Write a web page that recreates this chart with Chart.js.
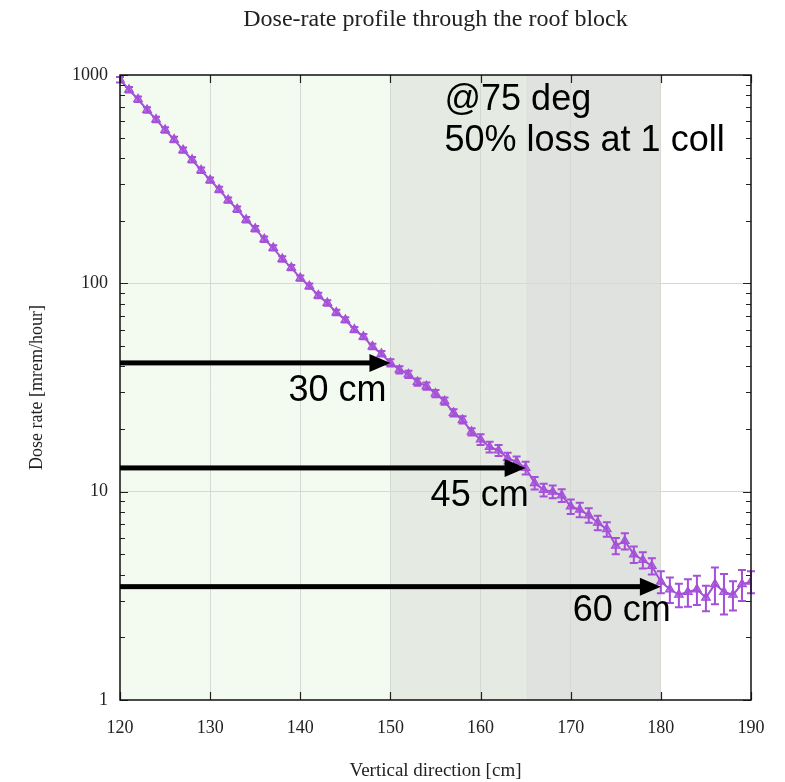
<!DOCTYPE html>
<html>
<head>
<meta charset="utf-8">
<script src="https://cdn.jsdelivr.net/npm/chart.js@4/dist/chart.umd.min.js"></script>
<style>
  html, body { margin: 0; padding: 0; background: #fff; }
</style>
</head>
<body>
<canvas id="grafico_dose" width="785" height="782"></canvas>
<script>
// dati: posizione verticale [cm] e dose [mrem/hour]
const POSIZIONI = [
  120, 121, 122, 123, 124, 125, 126, 127, 128, 129,
  130, 131, 132, 133, 134, 135, 136, 137, 138, 139,
  140, 141, 142, 143, 144, 145, 146, 147, 148, 149,
  150, 151, 152, 153, 154, 155, 156, 157, 158, 159,
  160, 161, 162, 163, 164, 165, 166, 167, 168, 169,
  170, 171, 172, 173, 174, 175, 176, 177, 178, 179,
  180, 181, 182, 183, 184, 185, 186, 187, 188, 189, 190
];
const DOSE = [
  950, 850, 765, 680, 612, 545, 490, 436, 392, 349,
  313, 282, 251, 227, 202, 183, 163, 148, 131, 119,
  106, 97, 87.5, 80.5, 72.5, 66.8, 60, 55.5, 49.8, 45.9,
  41.5, 38.5, 36.6, 33.6, 32.1, 29.6, 27.2, 23.9, 22.1, 19.4,
  17.8, 16.4, 15.8, 14.5, 13.9, 13.0, 11.0, 10.2, 10.0, 9.6,
  8.5, 8.2, 7.7, 7.1, 6.6, 5.5, 5.8, 5.0, 4.7, 4.4,
  3.7, 3.4, 3.2, 3.3, 3.4, 3.1, 3.6, 3.3, 3.2, 3.6, 3.7
];
// errore relativo di ogni punto
const ERRORE = [
  0.03, 0.03, 0.03, 0.03, 0.03, 0.03, 0.03, 0.03, 0.03, 0.03,
  0.03, 0.03, 0.03, 0.03, 0.03, 0.03, 0.03, 0.03, 0.03, 0.03,
  0.03, 0.03, 0.03, 0.03, 0.03, 0.03, 0.03, 0.03, 0.03, 0.03,
  0.04, 0.04, 0.04, 0.04, 0.04, 0.04, 0.04, 0.04, 0.04, 0.04,
  0.06, 0.06, 0.06, 0.06, 0.06, 0.07, 0.07, 0.07, 0.07, 0.07,
  0.08, 0.08, 0.08, 0.08, 0.08, 0.09, 0.09, 0.09, 0.09, 0.09,
  0.12, 0.14, 0.13, 0.15, 0.16, 0.14, 0.2, 0.22, 0.16, 0.17, 0.12
];

const TICK_X = [120, 130, 140, 150, 160, 170, 180, 190];
const TICK_Y_MAGGIORI = [1, 10, 100, 1000];
const TICK_Y_MINORI = [2, 3, 4, 5, 6, 7, 8, 9, 20, 30, 40, 50, 60, 70, 80, 90, 200, 300, 400, 500, 600, 700, 800, 900];

// zone dello schermo (bordi in cm)
const ZONE_BORDI = [120, 150, 165, 180];
const ZONE_COLORI = ["#f3fbf0", "#e5ebe2", "#e0e2df"];

// frecce: fino a dove arrivano e a che dose
const FRECCE_X = [150, 165, 180];
const FRECCE_Y = [41.5, 13.0, 3.5];
const FRECCE_TESTO = ["30 cm", "45 cm", "60 cm"];

const NOTE = ["@75 deg", "50% loss at 1 coll"];

const VIOLA = "#a450d8";
const SERIF = "'Liberation Serif', 'DejaVu Serif', serif";
const SANS = "'Liberation Sans', Arial, sans-serif";

// spostamento delle scritte delle frecce rispetto alla punta (px)
const SPOST_TESTO_X = [-4, 3, 10];
const SPOST_TESTO_Y = [38, 38, 34];

const pluginZone = {
  id: "zone",
  beforeDraw(chart) {
    const ctx = chart.ctx;
    const x = chart.scales.x;
    const a = chart.chartArea;
    ctx.save();
    for (let i = 0; i < ZONE_COLORI.length; i++) {
      const x1 = x.getPixelForValue(ZONE_BORDI[i]);
      const x2 = x.getPixelForValue(ZONE_BORDI[i + 1]);
      ctx.fillStyle = ZONE_COLORI[i];
      ctx.fillRect(x1, a.top, x2 - x1, a.bottom - a.top);
    }
    ctx.restore();
  }
};

const pluginErrori = {
  id: "errori",
  afterDatasetsDraw(chart) {
    const ctx = chart.ctx;
    const x = chart.scales.x;
    const y = chart.scales.y;
    ctx.save();
    ctx.strokeStyle = VIOLA;
    ctx.lineWidth = 2;
    for (let i = 0; i < POSIZIONI.length; i++) {
      const px = x.getPixelForValue(POSIZIONI[i]);
      const y1 = y.getPixelForValue(DOSE[i] * (1 + ERRORE[i]));
      const y2 = y.getPixelForValue(DOSE[i] * (1 - ERRORE[i]));
      ctx.beginPath();
      ctx.moveTo(px, y1); ctx.lineTo(px, y2);
      ctx.moveTo(px - 4, y1); ctx.lineTo(px + 4, y1);
      ctx.moveTo(px - 4, y2); ctx.lineTo(px + 4, y2);
      ctx.stroke();
    }
    ctx.restore();
  }
};

const pluginCornice = {
  id: "cornice",
  afterDraw(chart) {
    const ctx = chart.ctx;
    const a = chart.chartArea;
    const x = chart.scales.x;
    const y = chart.scales.y;
    ctx.save();

    // tacche interne
    ctx.strokeStyle = "#222";
    ctx.lineWidth = 1.2;
    ctx.beginPath();
    TICK_X.forEach(v => {
      const px = Math.round(x.getPixelForValue(v)) + 0.5;
      ctx.moveTo(px, a.bottom); ctx.lineTo(px, a.bottom - 8);
      ctx.moveTo(px, a.top); ctx.lineTo(px, a.top + 8);
    });
    TICK_Y_MAGGIORI.forEach(v => {
      const py = Math.round(y.getPixelForValue(v)) + 0.5;
      ctx.moveTo(a.left, py); ctx.lineTo(a.left + 8, py);
      ctx.moveTo(a.right, py); ctx.lineTo(a.right - 8, py);
    });
    TICK_Y_MINORI.forEach(v => {
      const py = Math.round(y.getPixelForValue(v)) + 0.5;
      ctx.moveTo(a.left, py); ctx.lineTo(a.left + 5, py);
      ctx.moveTo(a.right, py); ctx.lineTo(a.right - 5, py);
    });
    ctx.stroke();

    ctx.lineWidth = 1.5;
    ctx.strokeStyle = "#111";
    ctx.strokeRect(a.left, a.top, a.right - a.left, a.bottom - a.top);

    // frecce
    ctx.fillStyle = "#000";
    for (let i = 0; i < FRECCE_X.length; i++) {
      const tx = x.getPixelForValue(FRECCE_X[i]);
      const ty = y.getPixelForValue(FRECCE_Y[i]);
      ctx.fillRect(a.left, ty - 2.5, tx - 20 - a.left, 5);
      ctx.beginPath();
      ctx.moveTo(tx, ty);
      ctx.lineTo(tx - 21, ty - 9);
      ctx.lineTo(tx - 21, ty + 9);
      ctx.closePath();
      ctx.fill();
      ctx.font = "36px " + SANS;
      ctx.textAlign = "right";
      ctx.textBaseline = "alphabetic";
      ctx.fillText(FRECCE_TESTO[i], tx + SPOST_TESTO_X[i], ty + SPOST_TESTO_Y[i]);
    }

    // note in alto
    ctx.font = "36px " + SANS;
    ctx.textAlign = "left";
    ctx.fillText(NOTE[0], x.getPixelForValue(156), a.top + 35);
    ctx.fillText(NOTE[1], x.getPixelForValue(156), a.top + 76);

    // titolo
    ctx.font = "24px " + SERIF;
    ctx.fillStyle = "#222";
    ctx.textAlign = "center";
    ctx.textBaseline = "middle";
    ctx.fillText("Dose-rate profile through the roof block", (a.left + a.right) / 2, 20);
    ctx.restore();
  }
};

const punti = POSIZIONI.map((p, i) => ({ x: p, y: DOSE[i] }));

const grafico_dose = new Chart("grafico_dose", {
  type: "line",
  data: {
    datasets: [{
      data: punti,
      borderColor: VIOLA,
      borderWidth: 2,
      backgroundColor: "rgba(164,80,216,0.75)",
      pointStyle: "triangle",
      pointRadius: 5,
      pointBorderColor: VIOLA,
      pointBorderWidth: 1.2,
      tension: 0
    }]
  },
  options: {
    responsive: false,
    animation: false,
    layout: { padding: { left: 0, right: 34, top: 75, bottom: 0 } },
    plugins: { legend: { display: false }, tooltip: { enabled: false } },
    scales: {
      x: {
        type: "linear",
        min: 120,
        max: 190,
        afterFit: s => { s.height = 82; },
        afterBuildTicks: s => { s.ticks = TICK_X.map(v => ({ value: v })); },
        grid: {
          drawTicks: false,
          color: c => (c.tick && c.tick.value > 120 && c.tick.value < 190) ? "#d6d8d4" : "rgba(0,0,0,0)"
        },
        border: { display: false },
        ticks: { padding: 17, color: "#222", font: { family: SERIF, size: 18 }, maxRotation: 0 },
        title: { display: true, text: "Vertical direction [cm]", color: "#222", font: { family: SERIF, size: 19 }, padding: { top: 0, bottom: 0 } }
      },
      y: {
        type: "logarithmic",
        min: 1,
        max: 1000,
        afterFit: s => { s.width = 120; },
        afterBuildTicks: s => { s.ticks = TICK_Y_MAGGIORI.map(v => ({ value: v })); },
        grid: {
          drawTicks: false,
          color: c => (c.tick && c.tick.value > 1 && c.tick.value < 1000) ? "#d6d8d4" : "rgba(0,0,0,0)"
        },
        border: { display: false },
        ticks: { padding: 12, color: "#222", autoSkip: false, font: { family: SERIF, size: 18 }, callback: v => String(v) },
        title: { display: true, text: "Dose rate [mrem/hour]", color: "#222", font: { family: SERIF, size: 18 }, padding: { top: 26, bottom: 0 } }
      }
    }
  },
  plugins: [pluginZone, pluginErrori, pluginCornice]
});
</script>
</body>
</html>
